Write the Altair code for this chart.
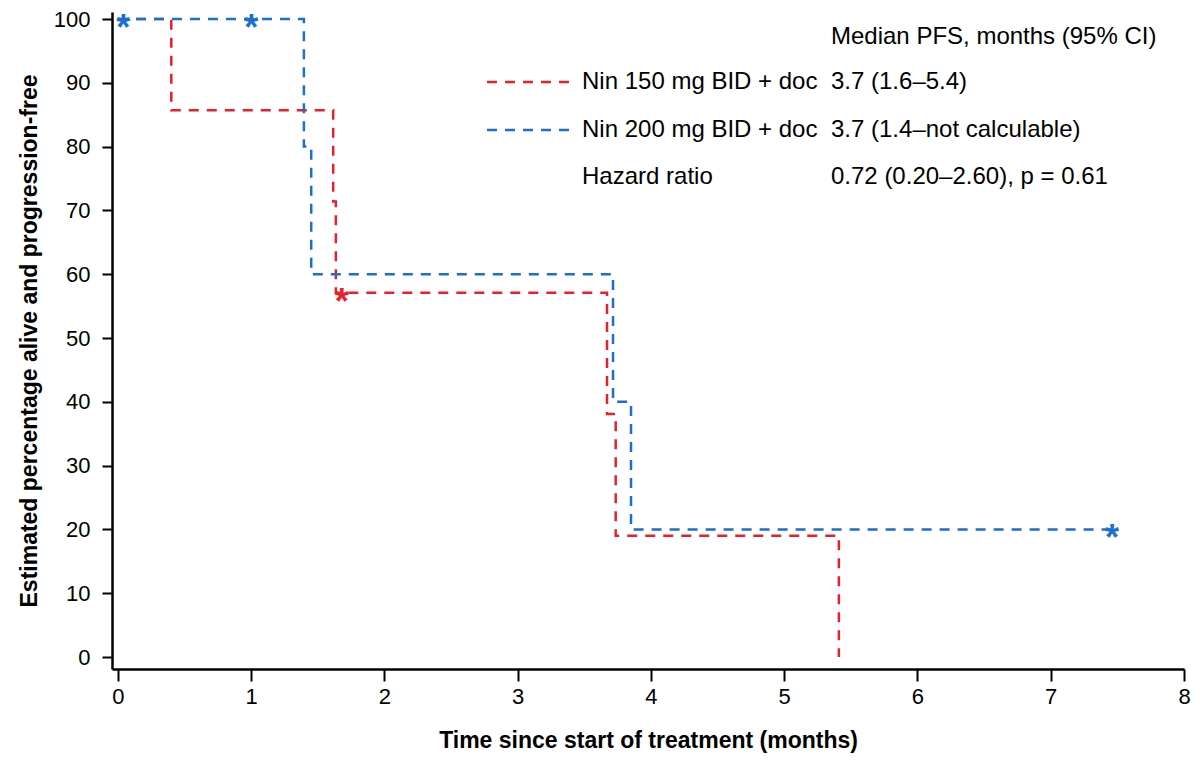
import altair as alt
import pandas as pd

# ---- data ----
red_time = [0, 0.40, 1.615, 1.635, 3.67, 3.735, 5.41]
red_surv = [100, 85.7, 71.4, 57.1, 38.1, 19.0, 0]
red_cens_time = [1.68]
red_cens_surv = [57.1]

blue_time = [0, 1.395, 1.45, 3.715, 3.85, 7.46]
blue_surv = [100, 80, 60, 40, 20, 20]
blue_cens_time = [0.04, 1.0, 7.46]
blue_cens_surv = [100, 100, 20]

series = ["Nin 150 mg BID + doc", "Nin 200 mg BID + doc"]
medians = ["3.7 (1.6–5.4)", "3.7 (1.4–not calculable)"]
colors = ["#e8202a", "#1a6fd0"]
header = "Median PFS, months (95% CI)"
hr_label = "Hazard ratio"
hr_value = "0.72 (0.20–2.60), p = 0.61"
x_ticks = [0, 1, 2, 3, 4, 5, 6, 7, 8]
y_ticks = [0, 10, 20, 30, 40, 50, 60, 70, 80, 90, 100]

FONT = "Liberation Sans"

curves = pd.concat([
    pd.DataFrame({"t": red_time, "s": red_surv, "arm": series[0]}),
    pd.DataFrame({"t": blue_time, "s": blue_surv, "arm": series[1]}),
])
cens = pd.concat([
    pd.DataFrame({"t": red_cens_time, "s": red_cens_surv, "arm": series[0]}),
    pd.DataFrame({"t": blue_cens_time, "s": blue_cens_surv, "arm": series[1]}),
])

xs = alt.Scale(domain=[-0.045, 8], nice=False, zero=False)
ys = alt.Scale(domain=[-1.88, 101.1], nice=False, zero=False)
cs = alt.Scale(domain=series, range=colors)

x_axis = alt.Axis(values=x_ticks, format="d", tickSize=12, tickWidth=2, domainWidth=2.5,
                  domainColor="black", tickColor="black", labelFont=FONT,
                  labelFontSize=22, labelColor="black", labelPadding=5,
                  title="Time since start of treatment (months)", titleFont=FONT,
                  titleFontSize=23, titleFontWeight="bold", titleColor="black",
                  titlePadding=22, grid=False, labelFlush=False)
y_axis = alt.Axis(values=y_ticks, format="d", tickSize=10, tickWidth=2, domainWidth=2.5,
                  domainColor="black", tickColor="black", labelFont=FONT,
                  labelFontSize=22, labelColor="black", labelPadding=12,
                  title="Estimated percentage alive and progression-free",
                  titleFont=FONT, titleFontSize=23, titleFontWeight="bold",
                  titleColor="black", titlePadding=12, grid=False, labelFlush=False)

lines = alt.Chart(curves).mark_line(
    interpolate="step-after", strokeWidth=2.5, strokeDash=[10, 8]
).encode(
    x=alt.X("t:Q", scale=xs, axis=x_axis),
    y=alt.Y("s:Q", scale=ys, axis=y_axis),
    color=alt.Color("arm:N", scale=cs, legend=None),
    order="t:Q",
)

stars = alt.Chart(cens).mark_text(
    text="*", font=FONT, fontSize=36, fontWeight="bold", baseline="alphabetic", dy=21
).encode(
    x=alt.X("t:Q", scale=xs),
    y=alt.Y("s:Q", scale=ys),
    color=alt.Color("arm:N", scale=cs, legend=None),
)

one = pd.DataFrame({"a": [0]})
layers = [lines, stars]

def txt(s, x, y):
    return alt.Chart(one).mark_text(
        text=s, font=FONT, fontSize=24, align="left", baseline="middle", color="black"
    ).encode(x=alt.value(x), y=alt.value(y))

layers.append(txt(header, 719, 25))
row_y = [70, 118]
for i in range(2):
    layers.append(alt.Chart(one).mark_rule(strokeWidth=2.5, strokeDash=[10, 8], color=colors[i]).encode(
        x=alt.value(375), x2=alt.value(458), y=alt.value(row_y[i])))
    layers.append(txt(series[i], 470, row_y[i]))
    layers.append(txt(medians[i], 719, row_y[i]))
layers.append(txt(hr_label, 470, 165))
layers.append(txt(hr_value, 719, 165))

chart = alt.layer(*layers).properties(
    width=1072, height=657,
    autosize=alt.AutoSizeParams(type="none"),
    padding={"left": 104, "top": 4, "right": 12, "bottom": 86},
    background="white",
).configure_view(stroke=None)

chart.save("out.html", embed_options={"renderer": "svg", "actions": False})
